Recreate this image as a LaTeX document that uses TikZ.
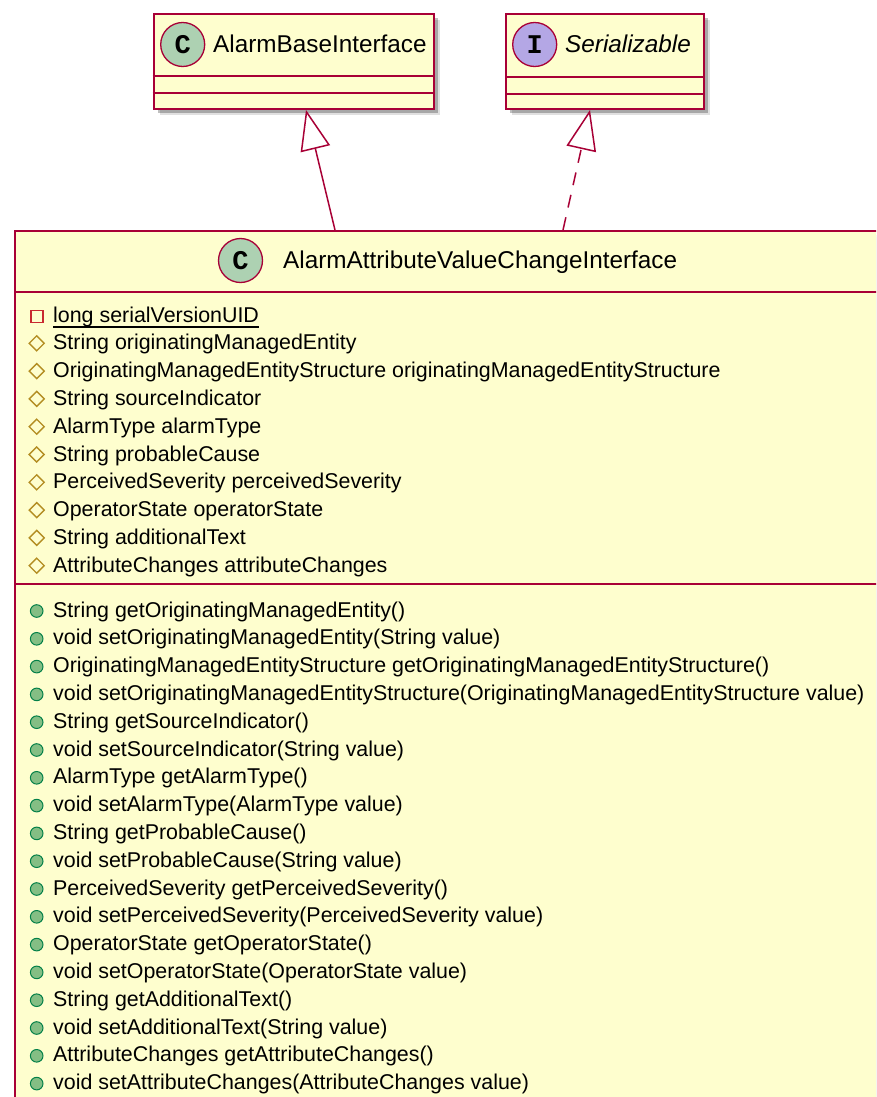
\documentclass[tikz,border=0pt]{standalone}
\usepackage{fontspec}
\setmainfont{Liberation Sans}
\newfontfamily\monob{Liberation Mono}
\usetikzlibrary{arrows.meta,calc,shadows}
\definecolor{umlborder}{HTML}{A80036}
\definecolor{umlfill}{HTML}{FEFECE}
\definecolor{cfill}{HTML}{ADD1B2}
\definecolor{ifill}{HTML}{B4A7E5}
\definecolor{privc}{HTML}{C82930}
\definecolor{protc}{HTML}{B38D22}
\definecolor{pubfill}{HTML}{84BE84}
\definecolor{pubdraw}{HTML}{038048}
\begin{document}
\begin{tikzpicture}[x=1pt,y=-1pt,
  classbox/.style={draw=umlborder, fill=umlfill, line width=1.9pt, rectangle, inner sep=0pt, anchor=north west,
    drop shadow={shadow xshift=6pt, shadow yshift=-6pt, fill=black, opacity=0.12},
    drop shadow={shadow xshift=4pt, shadow yshift=-4pt, fill=black, opacity=0.25}},
  sepline/.style={draw=umlborder, line width=1.9pt},
  classcircle/.style={circle, draw=umlborder, line width=1.3pt, minimum size=44pt, inner sep=0pt,
    font=\monob\bfseries\fontsize{27}{27}\selectfont},
  titletext/.style={anchor=base west, inner sep=0pt, font=\fontsize{24.3}{28}\selectfont},
  membertext/.style={anchor=base west, inner sep=0pt, font=\fontsize{21.4}{25}\selectfont},
  privicon/.style={draw=privc, line width=1.4pt},
  proticon/.style={draw=protc, line width=1.4pt},
  pubicon/.style={draw=pubdraw, fill=pubfill, line width=1.0pt},
  relline/.style={draw=umlborder, line width=1.5pt},
  realtip/.style={-{Triangle[open, length=40pt, width=30pt, fill=white]}}
]
\useasboundingbox[fill=white] (0,0) rectangle (876,1097);
\clip (0,0) rectangle (876,1097);

% ---- AlarmBaseInterface ----
\node[classbox, minimum width=280.3pt, minimum height=95pt] (abi) at (152.7,13) {};
\draw[sepline] ($(abi.north west)+(0,63)$) -- ($(abi.north east)+(0,63)$);
\draw[sepline] ($(abi.north west)+(0,80)$) -- ($(abi.north east)+(0,80)$);
\node[classcircle, fill=cfill] (abic) at (182.7,44.5) {C};
\node[titletext] (abit) at (213,53) {AlarmBaseInterface};

% ---- Serializable ----
\node[classbox, minimum width=197.7pt, minimum height=95pt] (ser) at (505,13) {};
\draw[sepline] ($(ser.north west)+(0,64)$) -- ($(ser.north east)+(0,64)$);
\draw[sepline] ($(ser.north west)+(0,81)$) -- ($(ser.north east)+(0,81)$);
\node[classcircle, fill=ifill] (serc) at (534.7,44.5) {I};
\node[titletext, font=\itshape\fontsize{24.3}{28}\selectfont] (sert) at (565,53) {Serializable};

% ---- AlarmAttributeValueChangeInterface ----
\node[classbox, minimum width=870pt, minimum height=900pt] (main) at (14,230) {};
\draw[sepline] ($(main.north west)+(0,62)$) -- ($(main.north east)+(0,62)$);
\draw[sepline] ($(main.north west)+(0,354)$) -- ($(main.north east)+(0,354)$);
\node[classcircle, fill=cfill] (mainc) at (240.5,260.5) {C};
\node[titletext] (maint) at (283,268.3) {AlarmAttributeValueChangeInterface};

% fields
\foreach \t [count=\i] in {long serialVersionUID,
  String originatingManagedEntity,
  OriginatingManagedEntityStructure originatingManagedEntityStructure,
  String sourceIndicator,
  AlarmType alarmType,
  String probableCause,
  PerceivedSeverity perceivedSeverity,
  OperatorState operatorState,
  String additionalText,
  AttributeChanges attributeChanges}{
  \node[membertext] (f\i) at (53,{322+27.8*(\i-1)}) {\t};
}
\draw[line width=1.1pt] ($(f1.base west)+(0,5)$) -- ($(f1.base east)+(0,5)$);
\draw[privicon] ($(f1.base west)+(-22,-11.5)$) rectangle ++(12,12);
\foreach \i in {2,...,10}{
  \draw[proticon] ($(f\i.base west)+(-16.3,-14)$) -- ++(7.5,7.5) -- ++(-7.5,7.5) -- ++(-7.5,-7.5) -- cycle;
}

% methods
\foreach \t [count=\i] in {String getOriginatingManagedEntity(),
  void setOriginatingManagedEntity(String value),
  OriginatingManagedEntityStructure getOriginatingManagedEntityStructure(),
  void setOriginatingManagedEntityStructure(OriginatingManagedEntityStructure value),
  String getSourceIndicator(),
  void setSourceIndicator(String value),
  AlarmType getAlarmType(),
  void setAlarmType(AlarmType value),
  String getProbableCause(),
  void setProbableCause(String value),
  PerceivedSeverity getPerceivedSeverity(),
  void setPerceivedSeverity(PerceivedSeverity value),
  OperatorState getOperatorState(),
  void setOperatorState(OperatorState value),
  String getAdditionalText(),
  void setAdditionalText(String value),
  AttributeChanges getAttributeChanges(),
  void setAttributeChanges(AttributeChanges value)}{
  \node[membertext] (m\i) at (53,{617+27.8*(\i-1)}) {\t};
  \draw[pubicon] ($(m\i.base west)+(-16.3,-6)$) circle (6.3pt);
}

% ---- relations ----
\coordinate (g1s) at ($(main.north west)+(321,0)$);
\coordinate (g1e) at ($(abi.south west)+(153.3,0)$);
\draw[relline, realtip] (g1s) -- (g1e);
\coordinate (g2s) at ($(main.north west)+(549,0)$);
\coordinate (g2e) at ($(ser.south west)+(85,0)$);
\draw[relline, realtip, dash pattern=on 13pt off 10pt] (g2s) -- (g2e);
\end{tikzpicture}
\end{document}
